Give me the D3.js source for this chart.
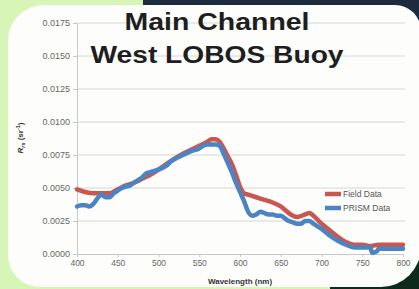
<!DOCTYPE html>
<html>
<head>
<meta charset="utf-8">
<script src="https://cdn.jsdelivr.net/npm/d3@7"></script>
<style>
  html, body { margin: 0; padding: 0; background: #d8f5b8; }
  svg { display: block; font-family: "Liberation Sans", Arial, sans-serif; }
</style>
</head>
<body>
<div id="chart"></div>
<script>
// wavelengths (nm) and Rrs values
const fieldWl = [400,410,420,430,440,450,460,470,480,490,500,514,530,540,550,560,565,570,575,580,585,590,595,600,605,610,620,630,640,650,660,665,670,680,685,690,700,710,720,730,740,750,760,770,780,790,800]
const fieldRrs = [.0049,.0047,.0046,.0046,.0046,.0049,.0052,.0054,.0057,.0060,.0064,.0070,.0076,.0079,.0082,.0085,.0087,.0087,.0085,.0080,.0074,.0068,.0060,.0051,.0046,.0045,.0043,.0041,.0039,.0036,.0031,.0029,.0028,.0030,.0031,.0029,.0023,.0018,.0013,.0009,.0007,.0007,.0006,.0007,.0007,.0007,.0007]

const prismWl = [400,405,410,415,420,425,430,435,440,445,450,455,460,465,470,475,480,485,490,495,500,510,515,520,530,540,550,555,560,570,575,580,585,590,595,600,605,610,615,620,625,630,635,640,645,650,655,660,665,670,675,680,685,690,695,700,710,720,730,740,750,760,762,768,770,780,790,800]
const prismRrs = [.0036,.0037,.0037,.0036,.0038,.0042,.0045,.0043,.0043,.0046,.0048,.0050,.0051,.0052,.0054,.0056,.0058,.0061,.0062,.0063,.0064,.0067,.0070,.0072,.0075,.0078,.0080,.0082,.0083,.0083,.0082,.0076,.0069,.0062,.0054,.0047,.0040,.0032,.0029,.0030,.0032,.0031,.0030,.0030,.0029,.0029,.0027,.0025,.0024,.0023,.0023,.0025,.0025,.0023,.0021,.0019,.0014,.0010,.0007,.0005,.0005,.0005,.0001,.0002,.0004,.0004,.0004,.0004]

const xTicks = [400,450,500,550,600,650,700,750,800]
const yTicks = [0,.0025,.005,.0075,.01,.0125,.015,.0175]
const titleLines = ["Main Channel", "West LOBOS Buoy"]
const seriesNames = ["Field Data", "PRISM Data"]
const seriesColors = ["#c9564f", "#4a84c4"]

const W = 419, H = 289
const svg = d3.select("#chart").append("svg").attr("width", W).attr("height", H)

// backdrop: slide edges around the white panel
svg.append("rect").attr("width", W).attr("height", H).attr("fill", "#d8f5b8")
svg.append("rect").attr("x", 143).attr("y", 0).attr("width", W - 143).attr("height", 160).attr("fill", "#1c2b3d")
svg.append("rect").attr("x", 330).attr("y", 160).attr("width", W - 330).attr("height", H - 160).attr("fill", "#0d2a1c")

// white panel, each corner its own radius
const pL = 8, pT = 5, pR = 421, pB = 287
const rTL = 36, rTR = 26, rBR = 40, rBL = 32
svg.append("path").attr("fill", "#fdfefb").attr("d",
  `M${pL + rTL},${pT} H${pR - rTR} A${rTR},${rTR} 0 0 1 ${pR},${pT + rTR}` +
  ` V${pB - rBR} A${rBR},${rBR} 0 0 1 ${pR - rBR},${pB}` +
  ` H${pL + rBL} A${rBL},${rBL} 0 0 1 ${pL},${pB - rBL}` +
  ` V${pT + rTL} A${rTL},${rTL} 0 0 1 ${pL + rTL},${pT} Z`)

const x = d3.scaleLinear().domain([400, 800]).range([77, 403])
const y = d3.scaleLinear().domain([0, 0.0175]).range([254, 23])

// gridlines
svg.append("g").selectAll("line").data(yTicks.slice(1)).join("line")
  .attr("x1", x(400)).attr("x2", x(800) + 2)
  .attr("y1", d => y(d)).attr("y2", d => y(d))
  .attr("stroke", "#d6d6d6").attr("stroke-width", 1)

const yAxis = svg.append("g").attr("transform", `translate(${x(400)},0)`)
  .call(d3.axisLeft(y).tickValues(yTicks).tickFormat(d3.format(".4f")).tickSize(4).tickPadding(3))
const xAxis = svg.append("g").attr("transform", `translate(0,${y(0)})`)
  .call(d3.axisBottom(x).tickValues(xTicks).tickFormat(d3.format("d")).tickSize(3).tickPadding(3))
;[yAxis, xAxis].forEach(a => {
  a.select(".domain").attr("stroke", "#c8c8c8")
  a.selectAll(".tick line").attr("stroke", "#c8c8c8")
  a.selectAll("text").attr("fill", "#666").attr("font-size", "8.5px")
})
yAxis.selectAll("text").attr("font-size", "9px")

// series
const line = d3.line().x(d => x(d[0])).y(d => y(d[1])).curve(d3.curveMonotoneX)
const fieldPts = fieldWl.map((w, i) => [w, fieldRrs[i]])
const prismPts = prismWl.map((w, i) => [w, prismRrs[i]])
svg.append("path").datum(fieldPts).attr("d", line)
  .attr("fill", "none").attr("stroke", seriesColors[0]).attr("stroke-width", 4.5)
  .attr("stroke-linejoin", "round").attr("stroke-linecap", "round")
svg.append("path").datum(prismPts).attr("d", line)
  .attr("fill", "none").attr("stroke", seriesColors[1]).attr("stroke-width", 4.5)
  .attr("stroke-linejoin", "round").attr("stroke-linecap", "round")

// legend
const leg = svg.append("g").selectAll("g").data(seriesNames).join("g")
  .attr("transform", (d, i) => `translate(325,${194 + i * 14})`)
leg.append("line").attr("x1", 0).attr("x2", 16)
  .attr("stroke", (d, i) => seriesColors[i]).attr("stroke-width", 4.5)
leg.append("text").attr("x", 18).attr("dy", "0.35em").text(d => d)
  .attr("font-size", "8.5px").attr("fill", "#555")

// axis titles
svg.append("text").attr("x", 240).attr("y", 284).attr("text-anchor", "middle")
  .attr("font-size", "8px").attr("font-weight", "bold").attr("fill", "#333").text("Wavelength (nm)")
const yl = svg.append("text").attr("transform", "translate(23,138) rotate(-90)")
  .attr("text-anchor", "middle").attr("font-size", "8px").attr("font-weight", "bold").attr("fill", "#333")
yl.append("tspan").attr("font-style", "italic").text("R")
yl.append("tspan").attr("font-size", "5.5px").attr("dy", 2).attr("font-style", "italic").text("rs")
yl.append("tspan").attr("dy", -2).text(" (sr")
yl.append("tspan").attr("font-size", "5.5px").attr("dy", -3).text("-1")
yl.append("tspan").attr("dy", 3).text(")")

// title
svg.append("g").selectAll("text").data(titleLines).join("text")
  .attr("x", 217).attr("y", (d, i) => 30 + i * 33)
  .attr("text-anchor", "middle").attr("font-size", "24px").attr("font-weight", "bold")
  .attr("fill", "#1e1e1e")
  .attr("textLength", (d, i) => i === 0 ? 185 : 253).attr("lengthAdjust", "spacingAndGlyphs")
  .text(d => d)
</script>
</body>
</html>
